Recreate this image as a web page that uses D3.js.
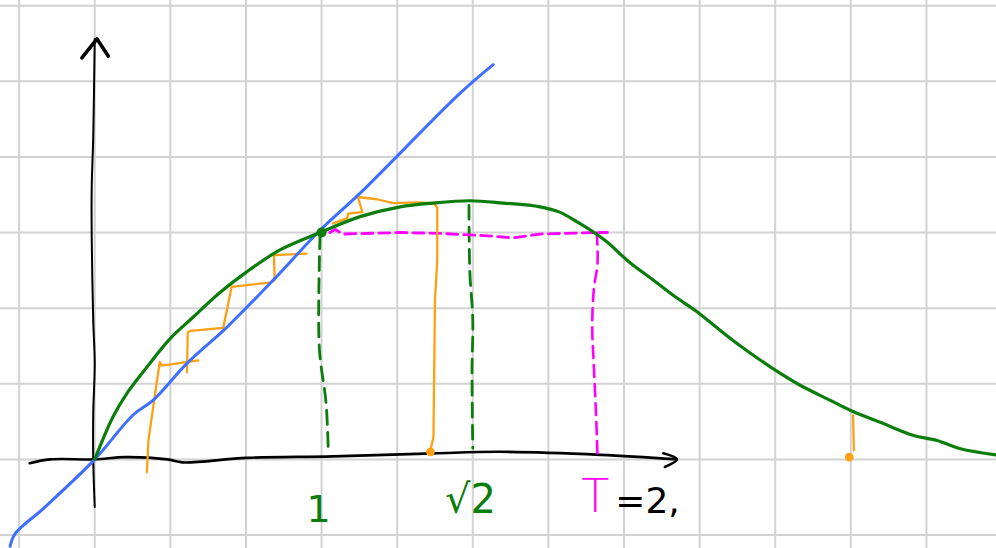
<!DOCTYPE html>
<html>
<head>
<meta charset="utf-8">
<script src="https://cdn.jsdelivr.net/npm/d3@7"></script>
<style>
  html, body { margin: 0; padding: 0; background: #fff; }
  svg { display: block; }
</style>
</head>
<body>
<script>
// Fixed-point sketch of f(x): the identity line, the map f, the cobweb
// iteration and the marked points 1, √2 and T = 2. Units are grid cells.

// grid cells
const gridX = d3.range(-1, 12);
const gridY = d3.range(-1, 7);

// hand-drawn axes
const xAxisPts = [[-0.86,-0.05],[-0.59,0.00],[0,0],[0.40,0.03],[0.96,0.00],[1.16,-0.04],[2.01,0.02],[3.15,0.04],[4.48,0.08],[5.36,0.10],[6.69,0.06],[7.70,0.00]];
const xArrow = [[7.52,0.08],[7.70,0.00],[7.54,-0.10]];
const yAxisPts = [[0.00,-0.63],[-0.02,0.00],[-0.02,0.61],[0.00,1.27],[-0.02,1.84],[-0.04,2.94],[-0.04,3.60],[-0.02,4.26],[0.00,5.56]];
const yArrow = [[-0.17,5.31],[0.03,5.56],[0.18,5.33]];

// identity line y = x
const diagonal = [[-1.12,-1.15],[-1.05,-0.98],[-0.68,-0.65],[0,0],[0.51,0.59],[0.77,0.78],[1.22,1.27],[1.75,1.75],[2.36,2.37],[2.98,3.03],[3.51,3.52],[4.83,4.84],[5.27,5.22]];

// the map f
const mapCurve = [[0,0],[0.24,0.56],[0.43,0.88],[0.69,1.22],[1.00,1.60],[1.30,1.88],[1.66,2.21],[2.01,2.48],[2.45,2.77],[2.98,3.00],[3.51,3.21],[4.04,3.34],[4.47,3.39],[4.96,3.42],[5.40,3.39],[5.89,3.34],[6.15,3.27],[6.38,3.14],[6.62,2.99],[6.78,2.87],[7.08,2.60],[7.39,2.37],[7.65,2.17],[7.97,1.95],[8.23,1.74],[8.54,1.50],[8.97,1.20],[9.33,0.98],[9.73,0.78],[9.99,0.65],[10.39,0.49],[10.82,0.32],[11.14,0.25],[11.45,0.14],[11.92,0.06]];
const fixedPoint = [3.0, 3.0];

// green dashed drops at 1 and √2
const dropOne = [[2.98,2.97],[2.97,1.48],[3.06,0.74],[3.09,0.08]];
const dropSqrt2 = [[4.95,3.36],[4.96,2.50],[5.00,1.84],[4.99,1.18],[5.00,0.15]];

// magenta dashed level f = 1 and drop at T
const levelT = [[3.11,3.00],[3.18,3.04],[3.28,2.98],[4.04,3.00],[4.53,2.99],[5.14,2.96],[5.53,2.93],[5.89,2.98],[6.64,3.00],[6.78,3.00]];
const dropT = [[6.64,3.00],[6.65,2.60],[6.60,2.24],[6.58,1.75],[6.60,1.25],[6.63,0.60],[6.65,0.03]];

// orange cobweb steps
const cobwebA = [[0.69,-0.17],[0.71,0.25],[0.80,0.88],[0.86,1.29],[0.89,1.24],[1.37,1.31]];
const cobwebB = [[1.22,1.15],[1.23,1.68],[1.27,1.70],[1.70,1.74],[1.81,2.28],[2.33,2.34],[2.38,2.37],[2.37,2.70],[2.80,2.72]];
const cobwebC = [[3.15,3.12],[3.34,3.19],[3.35,3.25],[3.54,3.27],[3.48,3.47],[3.73,3.44],[3.95,3.39],[4.26,3.40],[4.48,3.39],[4.53,3.33],[4.53,2.63],[4.50,2.11],[4.48,0.30],[4.44,0.12]];
const cobwebD = [[10.03,0.58],[10.04,0.12]];
const startDots = [[4.44,0.10],[9.98,0.03]];

// axis marks
const markX = [2.96, 4.97, 6.62];
const markText = ["1", "√2", "T"];
const markSuffix = "=2,";

const W = 996, H = 548;
const x = d3.scaleLinear().domain([-1.253, 11.92]).range([0, W]);
const y = d3.scaleLinear().domain([-1.172, 6.075]).range([H, 0]);

const svg = d3.select("body").append("svg").attr("width", W).attr("height", H);
svg.append("rect").attr("width", W).attr("height", H).attr("fill", "#fff");

// grid
const grid = svg.append("g").attr("stroke", "#d2d2d2").attr("stroke-width", 2);
grid.selectAll("line.v").data(gridX).join("line").attr("class", "v")
  .attr("x1", d => x(d)).attr("x2", d => x(d)).attr("y1", 0).attr("y2", H);
grid.selectAll("line.h").data(gridY).join("line").attr("class", "h")
  .attr("x1", 0).attr("x2", W).attr("y1", d => y(d)).attr("y2", d => y(d));

const smooth = d3.line().x(d => x(d[0])).y(d => y(d[1])).curve(d3.curveCatmullRom.alpha(0.5));
const straight = d3.line().x(d => x(d[0])).y(d => y(d[1]));

function stroke(pts, gen, color, width, dash) {
  const p = svg.append("path").attr("d", gen(pts)).attr("fill", "none")
    .attr("stroke", color).attr("stroke-width", width)
    .attr("stroke-linecap", "round").attr("stroke-linejoin", "round");
  if (dash) p.attr("stroke-dasharray", dash);
  return p;
}

// axes
stroke(xAxisPts, smooth, "#000", 2.6);
stroke(xArrow, smooth, "#000", 2.6);
stroke(yAxisPts, smooth, "#000", 2);
stroke(yArrow, straight, "#000", 3.6);

// dashed guides
stroke(dropOne, smooth, "#0b7d0b", 2.8, "14,8");
stroke(dropSqrt2, smooth, "#0b7d0b", 2.8, "14,8");
stroke(levelT, straight, "#ff00ff", 2.8, "11,6");
stroke(dropT, smooth, "#ff00ff", 2.6, "12,7");

// cobweb
const orange = "#ffa014";
[cobwebA, cobwebB, cobwebC, cobwebD].forEach(c => stroke(c, straight, orange, 2.3));
svg.selectAll("circle.start").data(startDots).join("circle").attr("class", "start")
  .attr("cx", d => x(d[0])).attr("cy", d => y(d[1])).attr("r", 3.6)
  .attr("fill", orange).attr("stroke", orange).attr("stroke-width", 1.5);

// identity and map
stroke(diagonal, smooth, "#3f6fff", 3);
stroke(mapCurve, smooth, "#0b7d0b", 3.2);
svg.append("circle").attr("cx", x(fixedPoint[0])).attr("cy", y(fixedPoint[1]))
  .attr("r", 5).attr("fill", "#0b7d0b");

// labels under the axis
const labelColors = ["#0b7d0b", "#0b7d0b", "#ff00ff"];
const labelSizes = [38, 40, 46];
const labelBase = [522, 513, 512];
const labels = svg.append("g").attr("font-family", "'DejaVu Sans', sans-serif");
labels.selectAll("text").data(markX).join("text")
  .attr("x", d => x(d)).attr("y", (d, i) => labelBase[i])
  .attr("text-anchor", "middle")
  .attr("font-size", (d, i) => labelSizes[i])
  .attr("font-weight", (d, i) => i === 2 ? 200 : 400)
  .attr("fill", (d, i) => labelColors[i])
  .text((d, i) => markText[i]);
labels.append("text")
  .attr("x", x(markX[2]) + 20).attr("y", 513)
  .attr("font-size", 36).attr("fill", "#000")
  .text(markSuffix);
</script>
</body>
</html>
